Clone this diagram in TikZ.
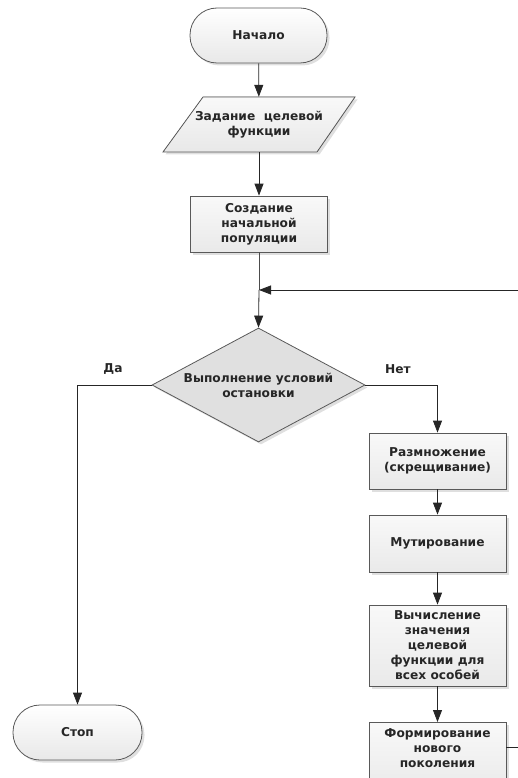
\documentclass[tikz,border=0pt]{standalone}
\usepackage{fontspec}
\setmainfont{DejaVu Sans}
\usetikzlibrary{arrows.meta,shapes.geometric,shadows,calc}
\begin{document}
\begin{tikzpicture}[x=1pt,y=-1pt,
  txt/.style={font=\bfseries\fontsize{12.2}{15}\selectfont, text=black!85, align=center},
  shade/.style={drop shadow={shadow xshift=2.5pt, shadow yshift=-2.5pt, opacity=0.25}},
  base/.style={txt, draw=black!65, line width=0.8pt, inner sep=0pt, shade},
  procbox/.style={base, rectangle, minimum width=137pt, top color=gray!5, bottom color=gray!17},
  term/.style={base, rectangle, rounded corners=27pt, minimum width=137pt, minimum height=55pt, top color=white, bottom color=gray!18},
  decide/.style={base, diamond, aspect=1.87, minimum width=213pt, minimum height=114pt, fill=gray!24},
  arr/.style={draw=black!85, line width=0.8pt, -{Triangle[length=12pt,width=9pt]}},
  ln/.style={draw=black!70, line width=0.8pt}
]
\useasboundingbox (0,0) rectangle (518,778);
\clip (0,0) rectangle (518,778);

% nodes
\node[term] (start) at (258.5,35.5) {Начало};

\fill[shade, top color=gray!5, bottom color=gray!18, draw=black!65, line width=0.8pt]
  (203,97) -- (355,97) -- (317,152) -- (163,152) -- cycle;
\node[txt, minimum width=150pt, minimum height=55pt, inner sep=0pt] (task) at (259,124.5) {Задание\ \ целевой\\функции};

\node[procbox, minimum height=56pt] (init) at (259,224) {Создание\\начальной\\популяции};

\coordinate (J) at (259,290);

\node[decide] (cond) at (258.5,385) {Выполнение условий\\остановки};

\node[term, minimum width=129pt] (stop) at (77.5,732.5) {Стоп};

\node[procbox, minimum height=56pt] (repr) at (437.5,461) {Размножение\\(скрещивание)};
\node[procbox, minimum height=57pt] (mut) at (437.5,543.5) {Мутирование};
\node[procbox, minimum height=81pt] (calc) at (437.5,645.5) {Вычисление\\значения\\целевой\\функции для\\всех особей};
\node[procbox, anchor=north, inner ysep=6pt, text depth=20pt] (form) at (437.5,722) {Формирование\\нового\\поколения};

% labels
\node[txt] (yes) at (113,369) {Да};
\node[txt] (no) at (398,369) {Нет};

% connectors
\draw[arr] (start) -- (task);
\draw[arr] (task) -- (init);
\draw[ln] (init.south) -- (J);
\draw[arr] (J) -- (cond.north);
\draw[arr] (cond.west) -| (stop.north);
\draw[arr] (cond.east) -| (repr.north);
\draw[arr] (repr) -- (mut);
\draw[arr] (mut) -- (calc);
\draw[arr] (calc) -- (form);
\coordinate (fo) at ($(form.north east)+(0,25)$);
\coordinate (far1) at (540,747);
\coordinate (far2) at (540,290);
\draw[arr] (fo) -- (far1) -- (far2) -- (J);
\end{tikzpicture}
\end{document}
